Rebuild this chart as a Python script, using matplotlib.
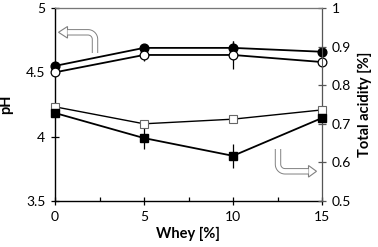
import numpy as np
import matplotlib.pyplot as plt
from matplotlib.lines import Line2D
from matplotlib.patches import Polygon

plt.rcParams['font.family'] = ['Lato', 'DejaVu Sans']

# Data
whey = [0, 5, 10, 15]
ph_filled = [4.55, 4.69, 4.69, 4.66]
ph_filled_err = [0.0, 0.02, 0.05, 0.0]
ph_open = [4.50, 4.635, 4.635, 4.58]
ph_open_err = [0.0, 0.05, 0.11, 0.0]
acid_open = [0.744, 0.700, 0.712, 0.736]
acid_open_err = [0.0, 0.0, 0.0, 0.0]
acid_filled = [0.728, 0.663, 0.617, 0.715]
acid_filled_err = [0.0, 0.027, 0.031, 0.0]

W, H = 378, 247
fig = plt.figure(figsize=(W / 100, H / 100), dpi=100)
ax = fig.add_axes([55 / W, 1 - 201 / H, 267 / W, 193 / H])
ax2 = ax.twinx()

# pH series (left axis)
ax.errorbar(whey, ph_filled, yerr=ph_filled_err, color='black', lw=1.3,
            marker='o', ms=6.3, mfc='black', mec='black', capsize=0,
            elinewidth=0.9, clip_on=False, zorder=3)
ax.errorbar(whey, ph_open, yerr=ph_open_err, color='black', lw=1.3,
            marker='o', ms=6.3, mfc='white', mec='black', mew=0.9, capsize=0,
            elinewidth=0.9, clip_on=False, zorder=3)

# total acidity series (right axis)
ax2.errorbar(whey, acid_open, yerr=acid_open_err, color='black', lw=1.0,
             marker='s', ms=5.5, mfc='white', mec='#666666', mew=0.8,
             capsize=0, elinewidth=0.9, clip_on=False, zorder=3)
ax2.errorbar(whey, acid_filled, yerr=acid_filled_err, color='black', lw=1.3,
             marker='s', ms=5.8, mfc='black', mec='black', capsize=0,
             elinewidth=0.9, clip_on=False, zorder=3)

ax.set_xlim(0, 15)
ax.set_ylim(3.5, 5)
ax2.set_ylim(0.5, 1)
ax.set_xticks([0, 5, 10, 15])
ax.set_xticks([2.5, 7.5, 12.5], minor=True)
ax.set_yticks([3.5, 4, 4.5, 5])
ax.set_yticklabels(['3.5', '4', '4.5', '5'])
ax2.set_yticks([0.5, 0.6, 0.7, 0.8, 0.9, 1.0])
ax2.set_yticklabels(['0.5', '0.6', '0.7', '0.8', '0.9', '1'])

ax.tick_params(axis='both', which='major', direction='inout', length=6,
               width=0.9, labelsize=10, pad=4)
ax.tick_params(axis='x', which='minor', direction='in', length=3, width=0.9)
ax2.tick_params(axis='y', direction='inout', length=6, width=0.9,
                color='#555555', labelsize=10, pad=4)

for s in ['left', 'bottom']:
    ax.spines[s].set_linewidth(1.0)
ax2.spines['right'].set_color('#555555')
ax2.spines['top'].set_color('#777777')
ax2.spines['top'].set_linewidth(0.8)
ax2.spines['left'].set_visible(False)
ax2.spines['bottom'].set_visible(False)

ax.set_xlabel('Whey [%]', fontsize=10.5, fontweight='bold', labelpad=3)
ax.set_ylabel('pH', fontsize=10.5, fontweight='bold', labelpad=9)
ax2.set_ylabel('Total acidity [%]', fontsize=10.5, fontweight='bold',
               labelpad=5)


def px(x, y):
    return x / W, 1 - y / H


def hollow_arrow(pts, head):
    xs, ys = zip(*[px(x, y) for x, y in pts])
    fig.add_artist(Line2D(xs, ys, transform=fig.transFigure, color='#808080',
                          lw=4.6, solid_capstyle='butt', solid_joinstyle='round'))
    fig.add_artist(Line2D(xs, ys, transform=fig.transFigure,
                          color='white', lw=3.2, solid_capstyle='butt',
                          solid_joinstyle='round'))
    fig.add_artist(Polygon([px(*p) for p in head], closed=True,
                           transform=fig.transFigure, facecolor='white',
                           edgecolor='#808080', lw=0.8))


t = np.linspace(0, np.pi / 2, 12)
r = 7

# top-left arrow (points to pH axis)
arc1 = [(88 + r * np.cos(a), 39.3 - r * np.sin(a)) for a in t]
pts1 = [(95, 53)] + arc1 + [(67.5, 32.3)]
hollow_arrow(pts1, [(67.5, 26.5), (58.5, 32.3), (67.5, 38.1)])

# bottom-right arrow (points to acidity axis)
arc2 = [(285 - r * np.cos(a), 164.3 + r * np.sin(a)) for a in t]
pts2 = [(278, 149)] + arc2 + [(308.5, 171.3)]
hollow_arrow(pts2, [(308.5, 165.5), (316.5, 171.3), (308.5, 177.1)])

fig.savefig('out.png', dpi=100)
